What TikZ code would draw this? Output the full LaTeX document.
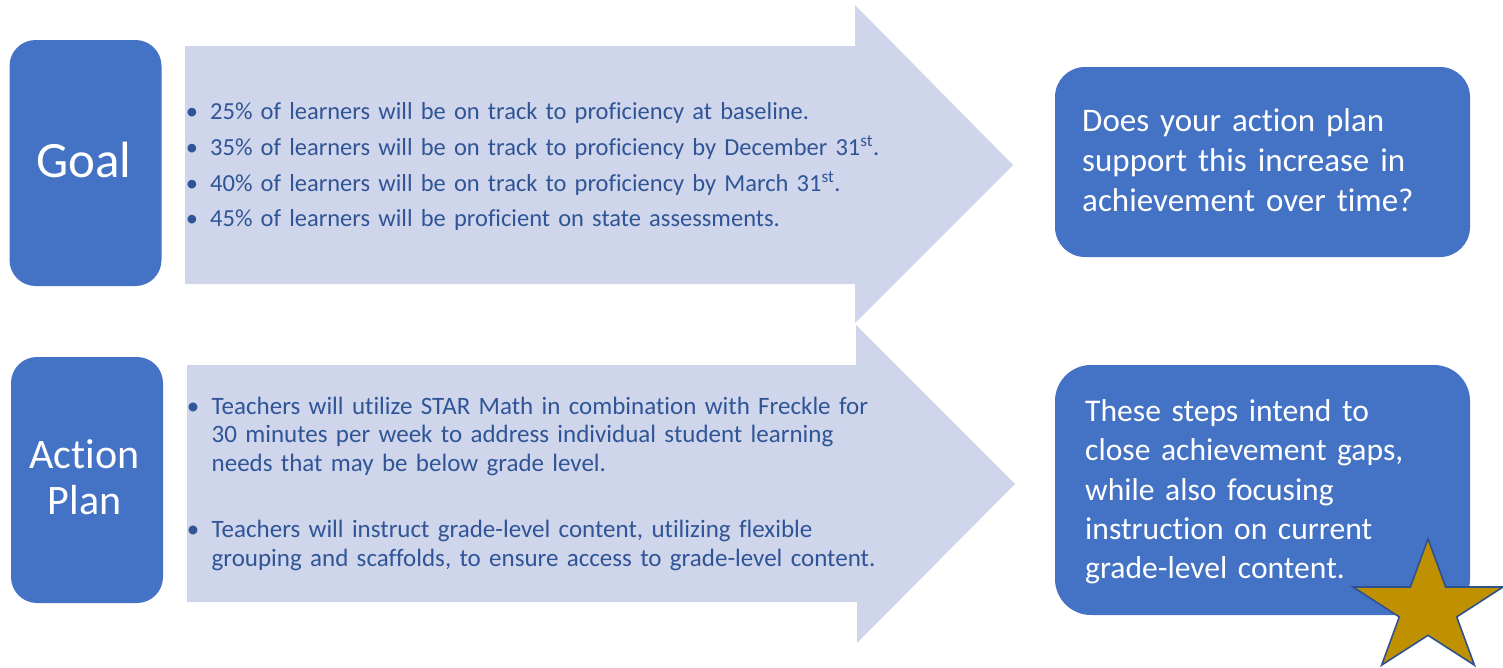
\documentclass[tikz,border=0pt]{standalone}
\usepackage{fontspec}
\setmainfont{Carlito}[Ligatures=NoCommon]
\definecolor{boxblue}{HTML}{4472C4}
\definecolor{arrowfill}{HTML}{CFD5EA}
\definecolor{textblue}{HTML}{2F5597}
\definecolor{stargold}{HTML}{BF9000}
\definecolor{staredge}{HTML}{2F528F}
\tikzset{
  labelbox/.style={rectangle, fill=boxblue, draw=none, rounded corners=#1, inner sep=0pt},
  labelbox/.default=26pt,
  bigarrow/.style={fill=arrowfill, draw=none},
  bullettext/.style={anchor=base west, inner sep=0pt, text=textblue, text width=700pt, align=left},
  bulletmark/.style={anchor=base, inner sep=0pt, text=textblue},
  boxtext/.style={anchor=base west, inner sep=0pt, text=white, text width=400pt, align=left},
}
\begin{document}
\begin{tikzpicture}[x=1pt,y=-1pt]
\useasboundingbox (0,0) rectangle (1503,667);

% left label boxes
\node[labelbox, minimum width=152pt, minimum height=246pt] (goalbox) at (85.5,163) {};
\node[labelbox, minimum width=152pt, minimum height=246pt] (planbox) at (87,480) {};
\node[anchor=base, inner sep=0pt, text=white, font=\fontsize{51}{60}\selectfont] (goallabel) at (84,177) {Goal};
\node[anchor=base, inner sep=0pt, text=white, text width=150pt, align=center,
      font=\fontsize{42}{46}\selectfont] (planlabel) at (84.5,468) {Action\\Plan};

% block arrows
\path[bigarrow] (185,46) -- (855,46) -- (855,5) -- (1013,165) -- (855,323)
  -- (855,284) -- (185,284) -- cycle;
\path[bigarrow] (187,365) -- (856,365) -- (856,325) -- (1015,484) -- (857,643)
  -- (857,602) -- (187,602) -- cycle;

% goal bullets
\begin{scope}[every node/.append style={font=\fontsize{24.5}{29}\selectfont}]
\foreach \yy/\nm in {119.3/ga,155.5/gb,191.2/gc,226.7/gd}
  \node[bulletmark] (\nm dot) at (192,\yy) {•};
\node[bullettext] (ga) at (210,119.3) {25\% of learners will be on track to proficiency at baseline.};
\node[bullettext] (gb) at (210,155.5) {35\% of learners will be on track to proficiency by December 31\textsuperscript{st}.};
\node[bullettext] (gc) at (210,191.2) {40\% of learners will be on track to proficiency by March 31\textsuperscript{st}.};
\node[bullettext] (gd) at (210,226.7) {45\% of learners will be proficient on state assessments.};
\end{scope}

% action plan bullets
\begin{scope}[every node/.append style={font=\fontsize{25}{28.6}\selectfont}]
\node[bulletmark] (padot) at (193,414.3) {•};
\node[bulletmark] (pbdot) at (193,537.7) {•};
\node[bullettext] (pa) at (211.5,414.3) {Teachers will utilize STAR Math in combination with Freckle for\\
  30 minutes per week to address individual student learning\\
  needs that may be below grade level.};
\node[bullettext] (pb) at (211.5,537.7) {Teachers will instruct grade-level content, utilizing flexible\\
  grouping and scaffolds, to ensure access to grade-level content.};
\end{scope}

% right question boxes
\node[labelbox=30pt, minimum width=415pt, minimum height=190pt] (askbox) at (1262.5,162) {};
\node[labelbox=36pt, minimum width=415pt, minimum height=250pt] (stepbox) at (1262.5,490) {};
\node[boxtext, font=\fontsize{33}{40}\selectfont] (asktext) at (1082,131.7)
  {Does your action plan\\support this increase in\\achievement over time?};
\node[boxtext, font=\fontsize{31.6}{39.2}\selectfont] (steptext) at (1085,421.7)
  {These steps intend to\\close achievement gaps,\\while also focusing\\instruction on current\\grade-level content.};

% star
\draw[fill=stargold, draw=staredge, line width=1.6pt, line join=miter]
  (1428,538.8) -- (1445.7,587) -- (1503,587) -- (1456.7,616.9) -- (1474.4,665.1)
  -- (1428,635.3) -- (1381.6,665.1) -- (1399.3,616.9) -- (1353,587) -- (1410.3,587) -- cycle;
\end{tikzpicture}
\end{document}
